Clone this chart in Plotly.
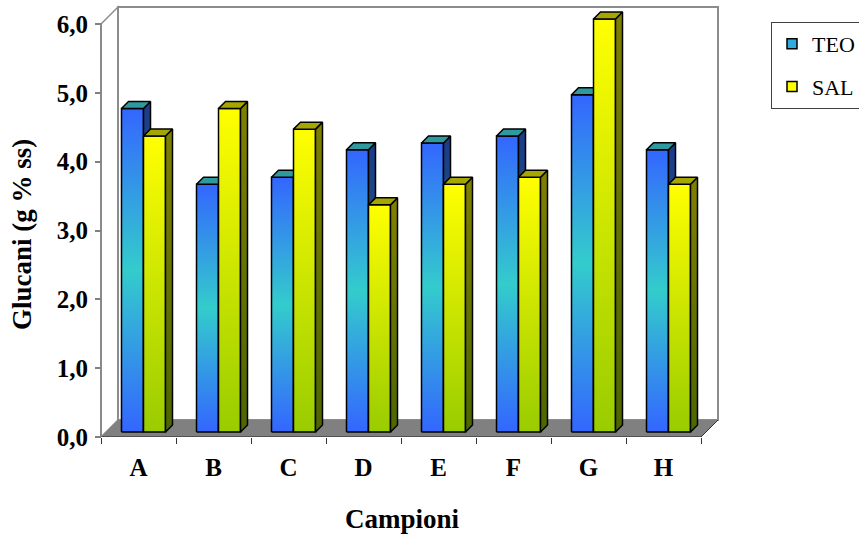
import plotly.graph_objects as go

# ---------------- data ----------------
categories = ["A", "B", "C", "D", "E", "F", "G", "H"]
teo = [4.7, 3.6, 3.7, 4.1, 4.2, 4.3, 4.9, 4.1]
sal = [4.3, 4.7, 4.4, 3.3, 3.6, 3.7, 6.0, 3.6]
series_names = ["TEO", "SAL"]
y_ticks = [0, 1, 2, 3, 4, 5, 6]
x_title = "Campioni"
y_title = "Glucani (g % ss)"

# ---------------- geometry / style ----------------
W, H = 859, 535
L, R, T, B = 90, 725, 3, 437           # plot area in px
AX = 101                                # y-axis px position
PXU = 75.0                              # px per category
PYU = 68.83                             # px per value unit
x_lo = -(AX - L) / PXU
x_hi = (R - AX) / PXU
y_hi = (B - T) / PYU

DEPTH = 17      # floor depth (px)
F0 = 5          # bar front offset into depth (px)
BD = 7          # bar depth (px)
BW = 22 / PXU   # bar width (category units)
GAP = (1 - 2 * BW) / 2

def dx(p): return p / PXU
def dy(p): return p / PYU
def paper_x(px): return (px - L) / (R - L)
def paper_y(py): return (B - py) / (B - T)

FONT = "Liberation Serif, Times New Roman, serif"
styles = {
    "TEO": dict(front=[[0, "#3366FF"], [0.5, "#33CCCC"], [1, "#3366FF"]],
                side=[[0, "#1C3A8A"], [0.5, "#1E5C7A"], [1, "#1C3A8A"]],
                top="#2E9AA0", legend="#33AADD"),
    "SAL": dict(front=[[0, "#99CC00"], [1, "#FFFF00"]],
                side=[[0, "#4D6600"], [1, "#808000"]],
                top="#A6A600", legend="#FFFF00"),
}

fig = go.Figure()

def poly(xs, ys, grad, color, y0, y1):
    kw = dict(x=xs + [xs[0]], y=ys + [ys[0]], mode="lines", fill="toself",
              line=dict(color="black", width=1.5), showlegend=False,
              hoverinfo="skip")
    if grad is not None:
        kw["fillgradient"] = dict(type="vertical", colorscale=grad, start=y0, stop=y1)
    else:
        kw["fillcolor"] = color
    fig.add_trace(go.Scatter(**kw))

values = [teo, sal]
for i, cat in enumerate(categories):
    for s, name in enumerate(series_names):
        v = values[s][i]
        st = styles[name]
        x0 = i + GAP + s * BW + dx(F0)
        x1 = x0 + BW
        b = dy(F0)
        t = b + v
        ox, oy = dx(BD), dy(BD)
        # front face
        poly([x0, x1, x1, x0], [b, b, t, t], st["front"], None, b, t)
        # side face
        poly([x1, x1 + ox, x1 + ox, x1], [b, b + oy, t + oy, t], st["side"], None, b, t + oy)
        # top face
        poly([x0, x1, x1 + ox, x0 + ox], [t, t, t + oy, t + oy], None, st["top"], t, t + oy)

# legend entries
for k, name in enumerate(series_names):
    fig.add_trace(go.Scatter(
        x=[None], y=[None], mode="markers", name=name, legendgroup=name,
        marker=dict(symbol="square", size=10, color=styles[name]["legend"],
                    line=dict(color="black", width=1.5)),
    ))

# walls, floor, axis lines
dX, dY = dx(DEPTH), dy(DEPTH)
ymax = y_ticks[-1]
n = len(categories)
shapes = [
    dict(type="path", path=f"M 0,0 L 0,{ymax} L {dX},{ymax + dY} L {dX},{dY} Z",
         fillcolor="white", line=dict(color="#8C8C8C", width=1.5), layer="below"),
    dict(type="rect", x0=dX, y0=dY, x1=n + dX, y1=ymax + dY,
         fillcolor="white", line=dict(color="#8C8C8C", width=2), layer="below"),
    dict(type="path", path=f"M 0,0 L {n},0 L {n + dX},{dY} L {dX},{dY} Z",
         fillcolor="#808080", line=dict(width=0), layer="below"),
    dict(type="line", x0=0, y0=0, x1=n, y1=0, line=dict(color="#222222", width=1), layer="below"),
    dict(type="line", x0=n, y0=0, x1=n + dX, y1=dY, line=dict(color="#333333", width=1), layer="below"),
    dict(type="line", x0=0, y0=0, x1=0, y1=ymax, line=dict(color="#808080", width=1.5), layer="below"),
]

fig.update_layout(
    width=W, height=H, autosize=False,
    margin=dict(l=L, r=W - R, t=T, b=H - B, autoexpand=False),
    plot_bgcolor="white", paper_bgcolor="white",
    separators=",.",
    shapes=shapes,
    showlegend=True,
    legend=dict(x=paper_x(771), y=paper_y(22), xanchor="left", yanchor="top",
                bordercolor="#404040", borderwidth=1, bgcolor="white",
                font=dict(family=FONT, size=22, color="black"),
                tracegroupgap=11, itemclick=False),
    xaxis=dict(range=[x_lo, x_hi], tickmode="array",
               tickvals=[i + 0.5 for i in range(n)], ticktext=categories,
               ticks="", showgrid=False, zeroline=False, showline=False,
               tickfont=dict(family=FONT, size=25, color="black", weight="bold"),
               ticklabelstandoff=13),
    xaxis2=dict(range=[x_lo, x_hi], overlaying="x", anchor="y", side="bottom",
                tickmode="array", tickvals=list(range(n + 1)), ticks="outside",
                ticklen=6, tickcolor="#333333", tickwidth=1,
                showticklabels=False, showgrid=False, zeroline=False, showline=False),
    yaxis=dict(range=[0, y_hi], tickmode="array", tickvals=y_ticks, tickformat=".1f",
               anchor="free", position=paper_x(AX),
               ticks="outside", ticklen=6, tickcolor="#808080", tickwidth=1.5,
               showgrid=False, zeroline=False, showline=False,
               tickfont=dict(family=FONT, size=25, color="black", weight="bold"),
               ticklabelstandoff=2),
    annotations=[
        dict(text=x_title, xref="paper", yref="paper", x=paper_x(402), y=paper_y(519),
             xanchor="center", yanchor="middle", showarrow=False,
             font=dict(family=FONT, size=27, color="black", weight="bold")),
        dict(text=y_title, xref="paper", yref="paper", x=paper_x(22), y=paper_y(235),
             xanchor="center", yanchor="middle", showarrow=False, textangle=-90,
             font=dict(family=FONT, size=27, color="black", weight="bold")),
    ],
)
# dummy trace to activate xaxis2 ticks
fig.add_trace(go.Scatter(x=[None], y=[None], xaxis="x2", yaxis="y", showlegend=False, hoverinfo="skip"))

fig.write_html("out.html")
